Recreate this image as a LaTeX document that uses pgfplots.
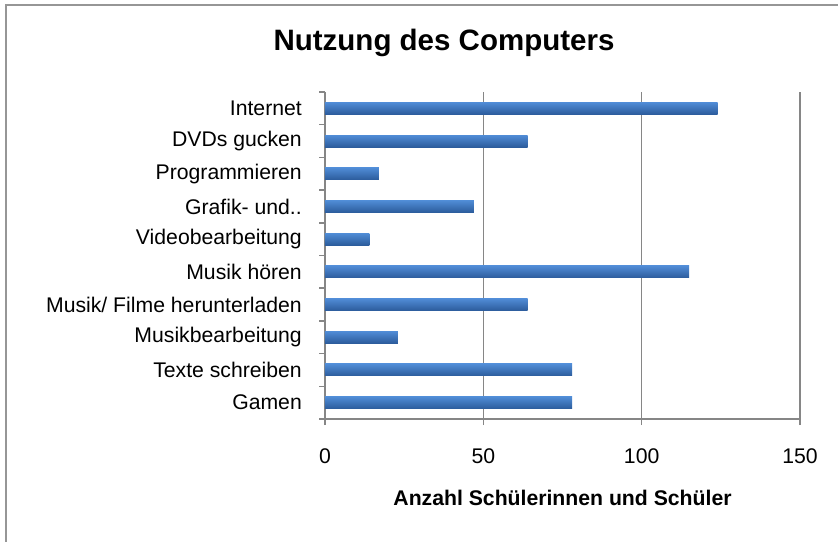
\documentclass[border=0pt]{standalone}
\usepackage{pgfplots}
\pgfplotsset{compat=1.18}
\usepackage{fontspec}
\setmainfont{Liberation Sans}
\definecolor{axgray}{RGB}{134,134,134}
\definecolor{framegray}{RGB}{150,150,150}
\definecolor{bartop}{RGB}{80,140,214}
\definecolor{barbot}{RGB}{44,92,156}
\begin{document}
\begin{tikzpicture}[x=1pt,y=1pt]
\useasboundingbox (0,0) rectangle (838,541);
\draw[color=framegray, line width=2pt] (6,-2) -- (6,535.5) -- (842,535.5);
\node[font=\fontsize{29.5}{34}\selectfont\bfseries] at (444,498) {Nutzung des Computers};
\begin{axis}[
  at={(325pt,122pt)}, anchor=south west,
  scale only axis, width=475pt, height=327pt,
  xmin=0, xmax=150, ymin=0.5, ymax=10.5,
  axis x line*=bottom, axis y line*=left,
  axis line style={axgray, line width=1.5pt},
  xtick={0,50,100,150},
  ytick={1,...,10},
  yticklabels={Gamen, Texte schreiben, Musikbearbeitung, Musik/ Filme herunterladen, Musik hören, Videobearbeitung, Grafik- und.., Programmieren, DVDs gucken, Internet},
  minor ytick={0.5,1.5,...,10.5},
  tick align=outside,
  major tick length=6pt, minor tick length=6pt,
  every major y tick/.style={draw=none},
  every minor y tick/.style={axgray, line width=1.5pt},
  every major x tick/.style={axgray, line width=1.5pt},
  xmajorgrids,
  major x grid style={axgray, line width=1.5pt},
  tick label style={font=\fontsize{21.2}{25}\selectfont, text=black},
  /pgf/number format/assume math mode=true,
  yticklabel style={inner sep=0pt, xshift=-17pt},
  xticklabel style={inner sep=0pt, yshift=-23pt},
  xlabel={Anzahl Schülerinnen und Schüler},
  xlabel style={font=\fontsize{21.2}{25}\selectfont\bfseries, at={(axis description cs:0.5,0)}, anchor=center, yshift=-79pt},
  clip=false,
  xbar, bar width=12pt, bar shift=0pt,
  barstyle/.style={xbar, bar width=12pt, bar shift=0pt, draw=none, top color=bartop, bottom color=barbot},
]
\addplot[barstyle] coordinates {(78,1)};
\addplot[barstyle] coordinates {(78,2)};
\addplot[barstyle] coordinates {(23,3)};
\addplot[barstyle] coordinates {(64,4)};
\addplot[barstyle] coordinates {(115,5)};
\addplot[barstyle] coordinates {(14,6)};
\addplot[barstyle] coordinates {(47,7)};
\addplot[barstyle] coordinates {(17,8)};
\addplot[barstyle] coordinates {(64,9)};
\addplot[barstyle] coordinates {(124,10)};
\end{axis}
\end{tikzpicture}
\end{document}
